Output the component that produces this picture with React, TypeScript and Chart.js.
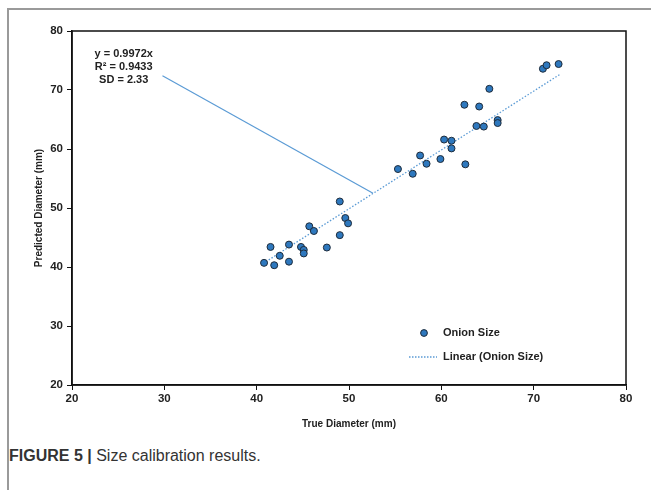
import React, { useEffect, useRef } from "react";
import { Chart, registerables } from "chart.js";

Chart.register(...registerables);

const trueDiameter = [40.8, 41.9, 41.5, 42.5, 43.5, 43.5, 44.8, 45.1, 45.1, 45.7, 46.2, 47.6, 49.0, 49.0, 49.6, 49.9, 55.3, 56.9, 57.7, 58.4, 59.9, 60.3, 61.1, 61.1, 62.6, 62.5, 64.1, 63.8, 64.6, 65.2, 66.1, 66.1, 71.0, 71.4, 72.7];
const predictedDiameter = [40.7, 40.3, 43.4, 41.9, 40.9, 43.8, 43.4, 42.9, 42.3, 46.9, 46.1, 43.3, 51.1, 45.4, 48.3, 47.4, 56.6, 55.8, 58.9, 57.5, 58.3, 61.6, 61.4, 60.1, 57.4, 67.5, 67.2, 63.9, 63.8, 70.2, 64.9, 64.4, 73.6, 74.2, 74.4];
const trendX = [40.7, 72.8];
const trendY = [40.6, 72.6];
const leaderX = [29.8, 52.6];
const leaderY = [72.4, 52.5];
const annotationLines = ["y = 0.9972x", "R\u00B2 = 0.9433", "SD = 2.33"];
const seriesLabel = "Onion Size";
const trendLabel = "Linear (Onion Size)";
const xTitle = "True Diameter (mm)";
const yTitle = "Predicted Diameter (mm)";

const FONT = "'Liberation Sans', Arial, sans-serif";
const POINT_FILL = "#2E78BE";
const POINT_BORDER = "#1E2B3A";
const LINE_BLUE = "#5B9BD5";
const TEXT = "#222222";

export default function App() {
  const ref = useRef<HTMLCanvasElement | null>(null);

  useEffect(() => {
    if (!ref.current) return;
    const boxPlugin = {
      id: "boxAndLegend",
      afterDraw(chart: any) {
        const { ctx, chartArea, scales } = chart;
        ctx.save();
        ctx.strokeStyle = "#111";
        ctx.lineWidth = 1.5;
        ctx.strokeRect(chartArea.left, chartArea.top, chartArea.right - chartArea.left, chartArea.bottom - chartArea.top);
        // annotation
        ctx.fillStyle = TEXT;
        ctx.font = `bold 11px ${FONT}`;
        ctx.textAlign = "center";
        ctx.textBaseline = "middle";
        const ax = scales.x.getPixelForValue(25.6);
        annotationLines.forEach((t, i) => {
          ctx.fillText(t, ax, 54 + i * 13);
        });
        // legend
        ctx.textAlign = "left";
        ctx.beginPath();
        ctx.arc(424, 333, 3.4, 0, Math.PI * 2);
        ctx.fillStyle = POINT_FILL;
        ctx.fill();
        ctx.lineWidth = 1;
        ctx.strokeStyle = POINT_BORDER;
        ctx.stroke();
        ctx.fillStyle = TEXT;
        ctx.fillText(seriesLabel, 443, 333);
        ctx.beginPath();
        ctx.setLineDash([1.5, 1.5]);
        ctx.strokeStyle = LINE_BLUE;
        ctx.lineWidth = 1.3;
        ctx.moveTo(409, 357);
        ctx.lineTo(437, 357);
        ctx.stroke();
        ctx.setLineDash([]);
        ctx.fillText(trendLabel, 443, 357);
        ctx.restore();
      },
    };

    const chart = new Chart(ref.current, {
      type: "scatter",
      data: {
        datasets: [
          {
            label: seriesLabel,
            data: trueDiameter.map((x, i) => ({ x, y: predictedDiameter[i] })),
            backgroundColor: POINT_FILL,
            borderColor: POINT_BORDER,
            borderWidth: 1,
            pointRadius: 3.5,
            order: 1,
          },
          {
            label: trendLabel,
            type: "line",
            data: trendX.map((x, i) => ({ x, y: trendY[i] })),
            borderColor: LINE_BLUE,
            borderWidth: 1.3,
            borderDash: [1.5, 1.8],
            pointRadius: 0,
            fill: false,
            order: 2,
          },
          {
            label: "leader",
            type: "line",
            data: leaderX.map((x, i) => ({ x, y: leaderY[i] })),
            borderColor: LINE_BLUE,
            borderWidth: 1.2,
            pointRadius: 0,
            fill: false,
            order: 3,
          },
        ],
      },
      options: {
        animation: false,
        responsive: false,
        devicePixelRatio: 1,
        layout: { padding: { left: 0, right: 25, top: 31, bottom: 0 } },
        plugins: { legend: { display: false }, tooltip: { enabled: false } },
        scales: {
          x: {
            type: "linear",
            min: 20,
            max: 80,
            afterFit(scale: any) {
              scale.height = 55;
            },
            ticks: { stepSize: 10, color: TEXT, font: { family: FONT, size: 11.5, weight: "bold" }, padding: 2 },
            grid: { drawOnChartArea: false, tickLength: 5, color: "#111", lineWidth: 1 },
            border: { color: "#111", width: 1.5 },
            title: { display: true, text: xTitle, color: TEXT, font: { family: FONT, size: 10, weight: "bold" }, padding: { top: 0, bottom: 10 } },
          },
          y: {
            type: "linear",
            min: 20,
            max: 80,
            afterFit(scale: any) {
              scale.width = 72;
            },
            ticks: { stepSize: 10, color: TEXT, font: { family: FONT, size: 11.5, weight: "bold" }, padding: 4 },
            grid: { drawOnChartArea: false, tickLength: 5, color: "#111", lineWidth: 1 },
            border: { color: "#111", width: 1.5 },
            title: { display: true, text: yTitle, color: TEXT, font: { family: FONT, size: 10, weight: "bold" }, padding: { top: 33, bottom: 0 } },
          },
        },
      },
      plugins: [boxPlugin],
    } as any);
    return () => chart.destroy();
  }, []);

  return (
    <div style={{ position: "absolute", left: 0, top: 0, width: 651, height: 490, background: "#fff", overflow: "hidden" }}>
      <div style={{ position: "absolute", left: 7, top: 8, width: 644, height: 482, borderTop: "2px solid #9a9a9a", borderLeft: "2px solid #9a9a9a" }} />
      <canvas ref={ref} width={651} height={440} style={{ position: "absolute", left: 0, top: 0, width: 651, height: 440 }} />
      <div style={{ position: "absolute", left: 9, top: 446, fontFamily: FONT, fontSize: 16, color: "#333", whiteSpace: "nowrap", lineHeight: "20px" }}>
        <span style={{ fontWeight: "bold" }}>FIGURE 5 | </span>
        <span>Size calibration results.</span>
      </div>
    </div>
  );
}
